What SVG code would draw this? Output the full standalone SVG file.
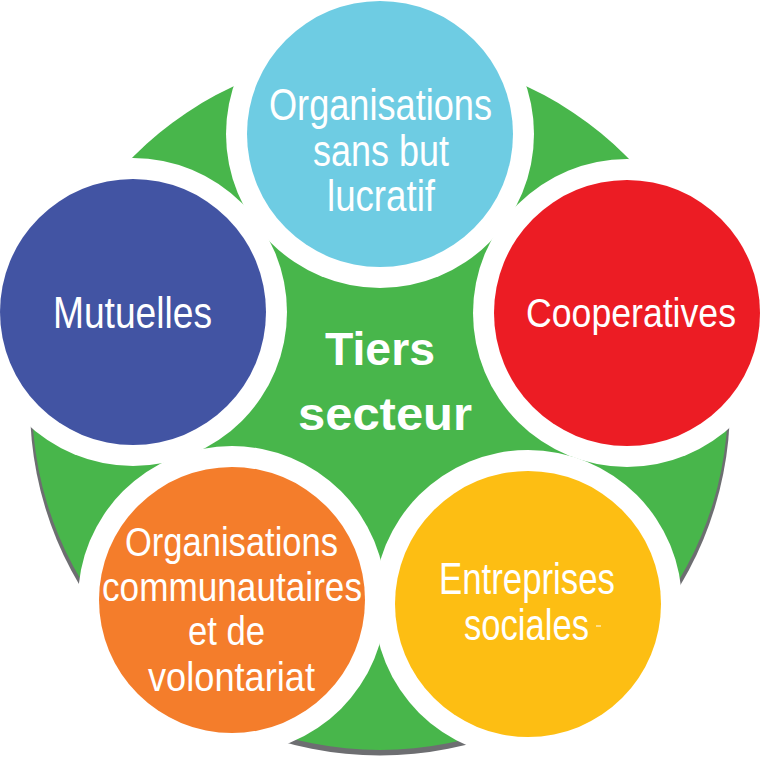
<svg xmlns="http://www.w3.org/2000/svg" width="760" height="772" viewBox="0 0 760 772">
<style>
.lbl{font-family:"Liberation Sans",Arial,sans-serif;font-size:44px;fill:#fff;text-anchor:middle}
.sm{font-size:41px}
.ctr{font-family:"Liberation Sans",Arial,sans-serif;font-size:47px;font-weight:bold;fill:#fff;text-anchor:middle}
.ring{fill:#fff}
</style>
<rect width="760" height="772" fill="#fff"/>
<g id="tiers-secteur">
<circle cx="380" cy="405.5" r="350" fill="#6d6e71"/>
<circle cx="380" cy="402" r="348" fill="#48b64b"/>
</g>
<g id="rings">
<circle class="ring" cx="380" cy="134" r="154"/>
<circle class="ring" cx="133" cy="312" r="154"/>
<circle class="ring" cx="627" cy="313" r="154"/>
<circle class="ring" cx="232" cy="600" r="154"/>
<circle class="ring" cx="528" cy="604" r="154"/>
</g>
<g id="center-label">
<text class="ctr" x="380" y="365" textLength="110" lengthAdjust="spacingAndGlyphs">Tiers</text>
<text class="ctr" x="385" y="430" textLength="174" lengthAdjust="spacingAndGlyphs">secteur</text>
</g>
<g id="osbl">
<circle cx="380" cy="134" r="133" fill="#6ecce3"/>
<text class="lbl" x="380.5" y="120" textLength="223" lengthAdjust="spacingAndGlyphs">Organisations</text>
<text class="lbl" x="381" y="166" textLength="136" lengthAdjust="spacingAndGlyphs">sans but</text>
<text class="lbl" x="381" y="211" textLength="108" lengthAdjust="spacingAndGlyphs">lucratif</text>
</g>
<g id="mutuelles">
<circle cx="133" cy="312" r="133" fill="#4254a3"/>
<text class="lbl" x="132.5" y="328" textLength="159" lengthAdjust="spacingAndGlyphs">Mutuelles</text>
</g>
<g id="cooperatives">
<circle cx="627" cy="313" r="133" fill="#ec1c24"/>
<text class="lbl sm" x="631" y="327" textLength="210" lengthAdjust="spacingAndGlyphs">Cooperatives</text>
</g>
<g id="communautaires">
<circle cx="232" cy="600" r="133" fill="#f47d2b"/>
<text class="lbl sm" x="231.5" y="556" textLength="213" lengthAdjust="spacingAndGlyphs">Organisations</text>
<text class="lbl sm" x="232" y="601" textLength="260" lengthAdjust="spacingAndGlyphs">communautaires</text>
<text class="lbl sm" x="226.5" y="645" textLength="77" lengthAdjust="spacingAndGlyphs">et de</text>
<text class="lbl sm" x="231.5" y="691" textLength="167" lengthAdjust="spacingAndGlyphs">volontariat</text>
</g>
<g id="entreprises">
<circle cx="528" cy="604" r="133" fill="#fdbe13"/>
<text class="lbl" x="527" y="594" textLength="176" lengthAdjust="spacingAndGlyphs">Entreprises</text>
<text class="lbl" x="526.5" y="640" textLength="125" lengthAdjust="spacingAndGlyphs">sociales</text>
<rect x="596" y="625.5" width="5" height="1" fill="#fff"/>
</g>
<g id="connectors"/>
</svg>
